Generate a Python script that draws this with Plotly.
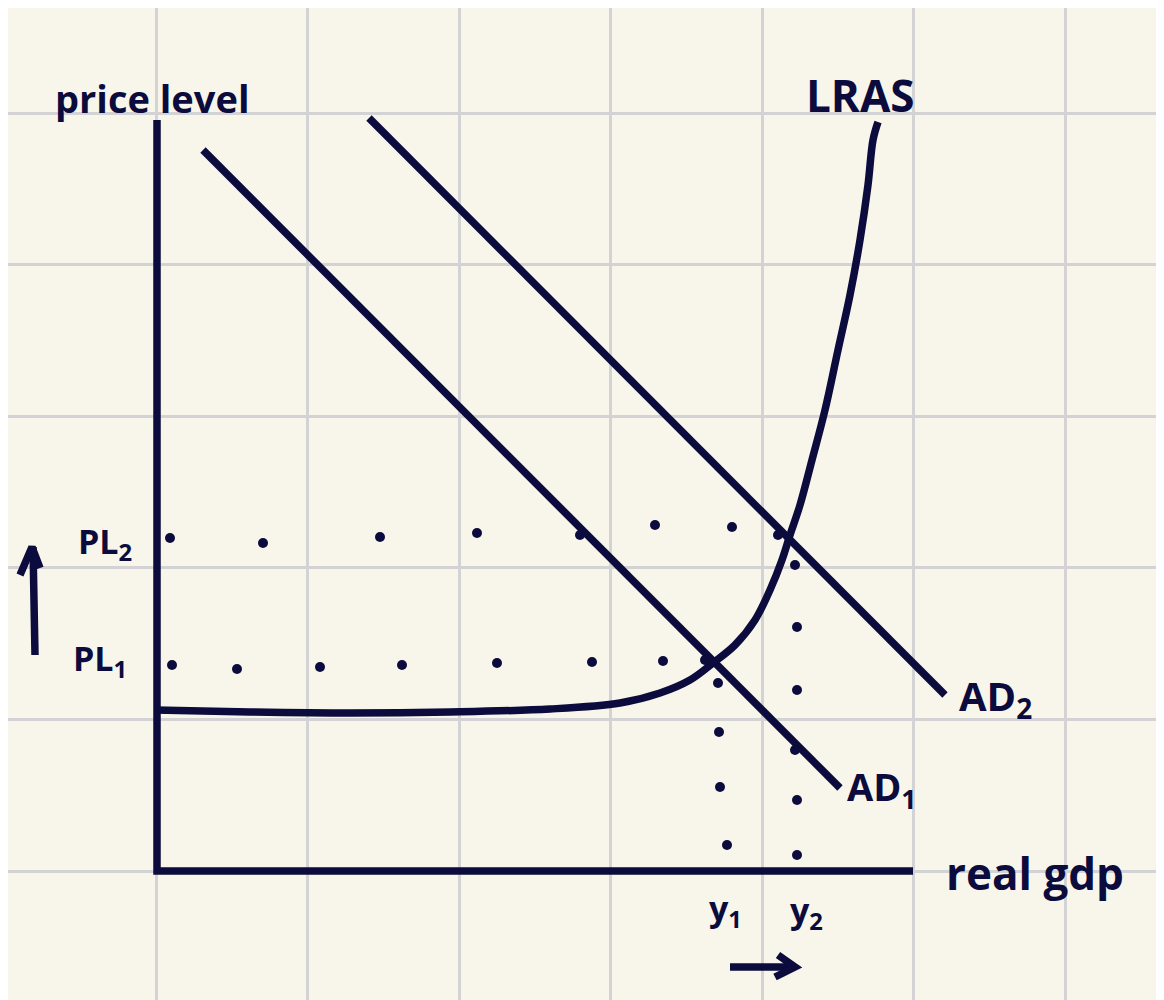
import plotly.graph_objects as go

# hand-drawn AD/AS sketch, coordinates in page pixels (y grows downward)
ink = "#0b0b3d"
paper = "#f8f6ea"

axis_x = [157, 157, 913]
axis_y = [120, 871, 871]

ad1_x = [203, 840]
ad1_y = [150, 788]
ad2_x = [369, 945]
ad2_y = [118, 695]

lras_x = [155, 250, 350, 450, 550, 620, 660, 690, 713, 735, 755, 770, 782, 790,
          800, 812, 825, 838, 850, 860, 868, 873, 878]
lras_y = [710, 712, 713, 712, 709, 703, 693, 680, 663, 645, 620, 590, 560, 535,
          505, 460, 410, 350, 295, 240, 185, 140, 122]

# dotted guide lines (hand-placed dots)
pl2_dots_x = [170, 263, 380, 477, 580, 655, 732, 778]
pl2_dots_y = [538, 543, 537, 533, 535, 525, 527, 535]
pl1_dots_x = [172, 237, 320, 402, 497, 592, 663, 705]
pl1_dots_y = [665, 669, 667, 665, 663, 662, 661, 660]
y1_dots_x = [718, 719, 720, 727]
y1_dots_y = [683, 732, 787, 845]
y2_dots_x = [795, 797, 797, 795, 797, 797]
y2_dots_y = [565, 627, 690, 750, 800, 855]

up_arrow_x = [35, 33, None, 20, 32, 40]
up_arrow_y = [655, 547, None, 575, 547, 568]
right_arrow_x = [730, 795, None, 778, 795, 775]
right_arrow_y = [967, 967, None, 955, 967, 977]

labels = ["price level", "LRAS", "PL<sub>2</sub>", "PL<sub>1</sub>", "AD<sub>2</sub>",
          "AD<sub>1</sub>", "real gdp", "y<sub>1</sub>", "y<sub>2</sub>"]
label_x = [152, 860, 105, 100, 995, 882, 1035, 725, 806]
label_y = [98, 95, 543, 660, 697, 788, 873, 910, 912]
label_size = [38, 44, 34, 34, 40, 38, 44, 34, 34]

fig = go.Figure()

line_style = dict(color=ink, width=7.5)
for xs, ys in [(axis_x, axis_y), (ad1_x, ad1_y), (ad2_x, ad2_y),
               (lras_x, lras_y), (up_arrow_x, up_arrow_y),
               (right_arrow_x, right_arrow_y)]:
    fig.add_trace(go.Scatter(x=xs, y=ys, mode="lines", line=line_style,
                             line_shape="spline" if xs is lras_x else "linear",
                             hoverinfo="skip"))

for xs, ys in [(pl2_dots_x, pl2_dots_y), (pl1_dots_x, pl1_dots_y),
               (y1_dots_x, y1_dots_y), (y2_dots_x, y2_dots_y)]:
    fig.add_trace(go.Scatter(x=xs, y=ys, mode="markers",
                             marker=dict(color=ink, size=10), hoverinfo="skip"))

for t, x, y, s in zip(labels, label_x, label_y, label_size):
    fig.add_annotation(x=x, y=y, text=t, showarrow=False,
                       font=dict(family="Open Sans", size=s, color=ink, weight="bold"))

grid = dict(showgrid=True, gridcolor="#d3d3d6", gridwidth=3, zeroline=False,
            showticklabels=False, ticks="")
# page has an 8px body margin, so shift the ranges to keep page pixels = data
fig.update_xaxes(range=[8, 1172], tick0=4.5, dtick=151.5, **grid)
fig.update_yaxes(range=[1008, 8], tick0=113, dtick=151.6, **grid)

fig.update_layout(
    width=1164, height=1000,
    margin=dict(l=0, r=0, t=0, b=0),
    paper_bgcolor=paper, plot_bgcolor=paper,
    showlegend=False,
)

fig.write_html("out.html", config=dict(displayModeBar=False))
